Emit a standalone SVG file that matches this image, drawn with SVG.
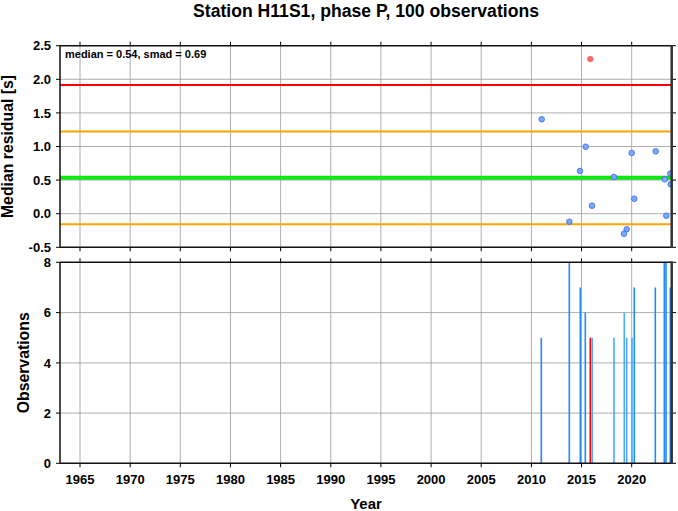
<svg xmlns="http://www.w3.org/2000/svg" width="678" height="511" viewBox="0 0 678 511">
<style>
text{font-family:"Liberation Sans",Arial,sans-serif;font-weight:bold;fill:#000}
.title{font-size:17.6px}
.lab{font-size:15px}
.ylab{font-size:15.8px;text-anchor:middle}
.ytick{font-size:13px;text-anchor:end}
.xtick{font-size:13px;text-anchor:middle}
.note{font-size:11px}
.grid{stroke:#999;stroke-width:0.8;fill:none}
.tk{stroke:#000;stroke-width:1;fill:none}
.frame{stroke:#111;stroke-width:1.5;fill:none}
.rframe{stroke:#333;stroke-width:2.5;fill:none}
.pt{fill:#78a8ff;stroke:#3a6ae8;stroke-width:0.8}
.ptr{fill:#ff6b6b;stroke:#ff4a4a;stroke-width:0.6}
.bar{stroke:#1e8cff;stroke-width:1.6}
.barl{stroke:#4da8ff;stroke-width:1.6}
.barr{stroke:#ff0000;stroke-width:1.6}
</style>
<defs>
<clipPath id="cTop"><rect x="60" y="45.7" width="611" height="201.6"/></clipPath>
<clipPath id="cBot"><rect x="60" y="262.3" width="611" height="201"/></clipPath>
</defs>
<rect width="678" height="511" fill="#fff"/>
<text class="title" x="366" y="16.5" text-anchor="middle">Station H11S1, phase P, 100 observations</text>

<g id="top-panel">
<g id="top-grid" class="grid">
<path d="M80,45.7V247.3M130.2,45.7V247.3M180.3,45.7V247.3M230.5,45.7V247.3M280.6,45.7V247.3M330.8,45.7V247.3M380.9,45.7V247.3M431.1,45.7V247.3M481.2,45.7V247.3M531.4,45.7V247.3M581.5,45.7V247.3M631.7,45.7V247.3"/>
<path d="M60,79.3H672M60,112.9H672M60,146.5H672M60,180.1H672M60,213.7H672"/>
</g>
<g id="top-lines">
<line x1="60" y1="84.9" x2="672" y2="84.9" stroke="#ff0000" stroke-width="2"/>
<line x1="60" y1="131.4" x2="672" y2="131.4" stroke="#ffa500" stroke-width="2"/>
<line x1="60" y1="177.7" x2="672" y2="177.7" stroke="#bbb" stroke-width="4.5"/>
<line x1="60" y1="177.7" x2="672" y2="177.7" stroke="#00ee00" stroke-width="3.5"/>
<line x1="60" y1="224.2" x2="672" y2="224.2" stroke="#ffa500" stroke-width="2"/>
</g>
<g id="points" clip-path="url(#cTop)">
<circle class="ptr" cx="590.3" cy="59" r="2.8"/>
<circle class="pt" cx="541.7" cy="119.3" r="2.8"/>
<circle class="pt" cx="585.7" cy="146.7" r="2.8"/>
<circle class="pt" cx="631.7" cy="153" r="2.8"/>
<circle class="pt" cx="655.7" cy="151.3" r="2.8"/>
<circle class="pt" cx="580" cy="171" r="2.8"/>
<circle class="pt" cx="614" cy="177" r="2.8"/>
<circle class="pt" cx="664.7" cy="179.3" r="2.8"/>
<circle class="pt" cx="670.3" cy="173.5" r="2.8"/>
<circle class="pt" cx="670.7" cy="184.3" r="2.8"/>
<circle class="pt" cx="592" cy="205.7" r="2.8"/>
<circle class="pt" cx="634.3" cy="198.7" r="2.8"/>
<circle class="pt" cx="569.3" cy="221.7" r="2.8"/>
<circle class="pt" cx="666.3" cy="215.7" r="2.8"/>
<circle class="pt" cx="626.7" cy="229.3" r="2.8"/>
<circle class="pt" cx="624" cy="233.7" r="2.8"/>
</g>
<g id="top-ticks" class="tk">
<path d="M56,45.7H60M56,79.3H60M56,112.9H60M56,146.5H60M56,180.1H60M56,213.7H60M56,247.3H60"/>
<path d="M672,45.7H676M672,79.3H676M672,112.9H676M672,146.5H676M672,180.1H676M672,213.7H676M672,247.3H676"/>
<path d="M80,41.7V45.7M130.2,41.7V45.7M180.3,41.7V45.7M230.5,41.7V45.7M280.6,41.7V45.7M330.8,41.7V45.7M380.9,41.7V45.7M431.1,41.7V45.7M481.2,41.7V45.7M531.4,41.7V45.7M581.5,41.7V45.7M631.7,41.7V45.7"/>
<path d="M80,247.3V251.3M130.2,247.3V251.3M180.3,247.3V251.3M230.5,247.3V251.3M280.6,247.3V251.3M330.8,247.3V251.3M380.9,247.3V251.3M431.1,247.3V251.3M481.2,247.3V251.3M531.4,247.3V251.3M581.5,247.3V251.3M631.7,247.3V251.3"/>
</g>
<path class="frame" d="M60,45.7H672M60,247.3H672M60,45.7V247.3"/>
<line class="rframe" x1="671.7" y1="45" x2="671.7" y2="248"/>
<g id="top-yticks" class="ytick">
<text x="51" y="50.4">2.5</text>
<text x="51" y="84">2.0</text>
<text x="51" y="117.6">1.5</text>
<text x="51" y="151.2">1.0</text>
<text x="51" y="184.8">0.5</text>
<text x="51" y="218.4">0.0</text>
<text x="51" y="252">-0.5</text>
</g>
<text class="note" x="65" y="57.5">median = 0.54, smad = 0.69</text>
<text class="ylab" transform="translate(13.3,146.5) rotate(-90)">Median residual [s]</text>
</g>

<g id="bottom-panel">
<g id="bot-grid" class="grid">
<path d="M80,262.3V463.3M130.2,262.3V463.3M180.3,262.3V463.3M230.5,262.3V463.3M280.6,262.3V463.3M330.8,262.3V463.3M380.9,262.3V463.3M431.1,262.3V463.3M481.2,262.3V463.3M531.4,262.3V463.3M581.5,262.3V463.3M631.7,262.3V463.3"/>
<path d="M60,413.1H672M60,362.9H672M60,312.6H672"/>
</g>
<g id="bars" clip-path="url(#cBot)">
<line class="bar" x1="541.3" y1="463.3" x2="541.3" y2="337.7"/>
<line class="bar" x1="569.3" y1="463.3" x2="569.3" y2="262.3"/>
<line class="bar" x1="580.3" y1="463.3" x2="580.3" y2="287.5"/>
<line class="bar" x1="585.3" y1="463.3" x2="585.3" y2="312.6"/>
<line class="barr" x1="590.3" y1="463.3" x2="590.3" y2="337.7"/>
<line class="barl" x1="592.2" y1="463.3" x2="592.2" y2="337.7"/>
<line class="barl" x1="614" y1="463.3" x2="614" y2="337.7"/>
<line class="barl" x1="624.3" y1="463.3" x2="624.3" y2="312.6"/>
<line class="barl" x1="626.7" y1="463.3" x2="626.7" y2="337.7"/>
<line class="barl" x1="632" y1="463.3" x2="632" y2="337.7"/>
<line class="bar" x1="634.3" y1="463.3" x2="634.3" y2="287.5"/>
<line class="bar" x1="655.3" y1="463.3" x2="655.3" y2="287.5"/>
<line class="bar" x1="664.3" y1="463.3" x2="664.3" y2="262.3"/>
<line class="bar" x1="666" y1="463.3" x2="666" y2="262.3"/>
<line class="bar" x1="670.3" y1="463.3" x2="670.3" y2="287.5"/>
</g>
<g id="bot-ticks" class="tk">
<path d="M56,262.3H60M56,312.6H60M56,362.9H60M56,413.1H60M56,463.3H60"/>
<path d="M672,262.3H676M672,312.6H676M672,362.9H676M672,413.1H676M672,463.3H676"/>
<path d="M80,258.3V262.3M130.2,258.3V262.3M180.3,258.3V262.3M230.5,258.3V262.3M280.6,258.3V262.3M330.8,258.3V262.3M380.9,258.3V262.3M431.1,258.3V262.3M481.2,258.3V262.3M531.4,258.3V262.3M581.5,258.3V262.3M631.7,258.3V262.3"/>
<path d="M80,463.3V467.3M130.2,463.3V467.3M180.3,463.3V467.3M230.5,463.3V467.3M280.6,463.3V467.3M330.8,463.3V467.3M380.9,463.3V467.3M431.1,463.3V467.3M481.2,463.3V467.3M531.4,463.3V467.3M581.5,463.3V467.3M631.7,463.3V467.3"/>
</g>
<path class="frame" d="M60,262.3H672M60,463.3H672M60,262.3V463.3"/>
<line class="rframe" x1="671.7" y1="261.5" x2="671.7" y2="464"/>
<g id="bot-yticks" class="ytick">
<text x="51" y="267">8</text>
<text x="51" y="317.3">6</text>
<text x="51" y="367.6">4</text>
<text x="51" y="417.8">2</text>
<text x="51" y="468">0</text>
</g>
<g id="xticks" class="xtick">
<text x="80" y="484">1965</text>
<text x="130.2" y="484">1970</text>
<text x="180.3" y="484">1975</text>
<text x="230.5" y="484">1980</text>
<text x="280.6" y="484">1985</text>
<text x="330.8" y="484">1990</text>
<text x="380.9" y="484">1995</text>
<text x="431.1" y="484">2000</text>
<text x="481.2" y="484">2005</text>
<text x="531.4" y="484">2010</text>
<text x="581.5" y="484">2015</text>
<text x="631.7" y="484">2020</text>
</g>
<text class="ylab" transform="translate(29,362.8) rotate(-90)">Observations</text>
<text class="lab" x="366" y="508.5" text-anchor="middle">Year</text>
</g>
</svg>
